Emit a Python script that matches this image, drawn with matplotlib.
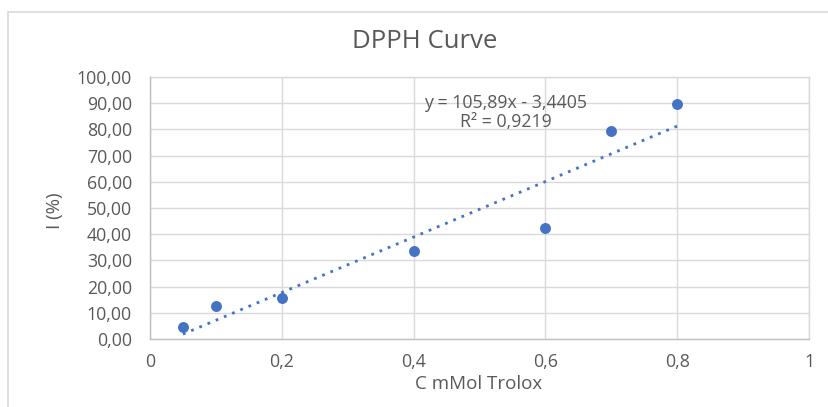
import matplotlib
matplotlib.use("Agg")
import matplotlib.pyplot as plt
from matplotlib.patches import Rectangle
import numpy as np

plt.rcParams['font.family'] = ['Open Sans', 'DejaVu Sans']

# Trolox concentration (mM) and DPPH inhibition (%)
conc = [0.05, 0.1, 0.2, 0.4, 0.6, 0.7, 0.8]
inhibition = [4.6, 12.6, 15.6, 33.6, 42.4, 79.4, 89.7]

# Linear trendline coefficients
slope = 105.89
intercept = -3.4405
r_squared = 0.9219

x_ticks = [0, 0.2, 0.4, 0.6, 0.8, 1]
x_tick_labels = ["0", "0,2", "0,4", "0,6", "0,8", "1"]
y_ticks = [0, 10, 20, 30, 40, 50, 60, 70, 80, 90, 100]
y_tick_labels = ["0,00", "10,00", "20,00", "30,00", "40,00", "50,00",
                 "60,00", "70,00", "80,00", "90,00", "100,00"]

W, H = 829, 407
fig = plt.figure(figsize=(W / 100, H / 100), dpi=100)

# chart-area frame
fig.patches.append(Rectangle((8 / W, -0.05), 1.1, 1 - 11.5 / H + 0.05,
                             transform=fig.transFigure, fill=False,
                             edgecolor="#d9d9d9", linewidth=1.2))

ax = fig.add_axes([150 / W, 1 - 339 / H, (809 - 150) / W, (339 - 77) / H])
ax.set_xlim(0, 1)
ax.set_ylim(0, 100)

text_color = "#595959"
grid_color = "#d9d9d9"
tick_size = 12.8

ax.set_xticks(x_ticks)
ax.set_xticklabels(x_tick_labels)
ax.set_yticks(y_ticks)
ax.set_yticklabels(y_tick_labels)
ax.tick_params(axis="both", length=0, colors=text_color, labelsize=tick_size)
ax.tick_params(axis="x", pad=10)
ax.tick_params(axis="y", pad=13)
ax.grid(True, color=grid_color, linewidth=1.0)
ax.set_axisbelow(True)
for side in ["top", "right"]:
    ax.spines[side].set_visible(False)
for side in ["left", "bottom"]:
    ax.spines[side].set_color("#bfbfbf")
    ax.spines[side].set_linewidth(1.0)
ax.axhline(100, color=grid_color, linewidth=1.0, clip_on=False)
ax.axvline(1, color=grid_color, linewidth=1.0, clip_on=False)

# trendline
xt = np.array([min(conc), max(conc)])
ax.plot(xt, slope * xt + intercept, color="#4472c4", linestyle=(0, (1, 2.2)),
        linewidth=2.0, zorder=2)

ax.scatter(conc, inhibition, s=62, color="#4472c4", zorder=3, linewidth=0)

ax.text(0.540, 90.1, f"y = {slope:.2f}x - {abs(intercept):.4f}".replace(".", ","),
        ha="center", va="center", color=text_color, fontsize=tick_size)
ax.text(0.540, 82.8, f"R² = {r_squared:.4f}".replace(".", ","),
        ha="center", va="center", color=text_color, fontsize=tick_size)

fig.text(424.5 / W, 1 - 42 / H, "DPPH Curve", ha="center", va="center",
         color=text_color, fontsize=18.5)
fig.text(479 / W, 1 - 384 / H, "C mMol Trolox", ha="center", va="center",
         color=text_color, fontsize=13.5)
fig.text(55 / W, 1 - 211 / H, "I (%)", ha="center", va="center", rotation=90,
         color=text_color, fontsize=13.5)

fig.savefig("out.png", dpi=100)
